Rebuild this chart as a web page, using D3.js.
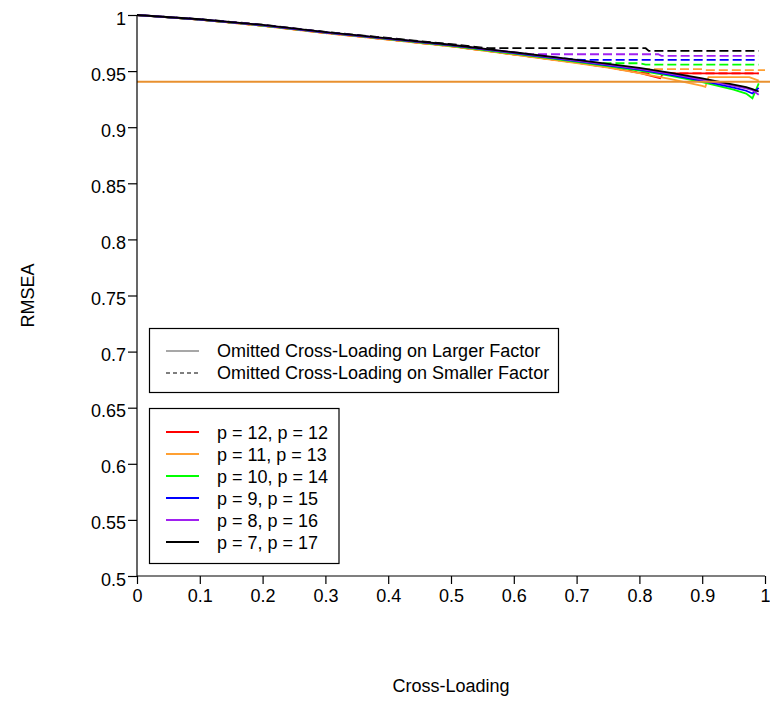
<!DOCTYPE html>
<html>
<head>
<meta charset="utf-8">
<script src="https://cdn.jsdelivr.net/npm/d3@7"></script>
<style>
  html, body { margin: 0; padding: 0; background: #fff; }
  svg { display: block; }
  text { font-family: "Liberation Sans", Arial, sans-serif; fill: #000; }
</style>
</head>
<body>
<svg id="chart" width="770" height="701"></svg>
<script>
// ---------------- data ----------------
const xTicks = [0, 0.1, 0.2, 0.3, 0.4, 0.5, 0.6, 0.7, 0.8, 0.9, 1];
const xTickLabels = ["0", "0.1", "0.2", "0.3", "0.4", "0.5", "0.6", "0.7", "0.8", "0.9", "1"];
const yTicks = [0.5, 0.55, 0.6, 0.65, 0.7, 0.75, 0.8, 0.85, 0.9, 0.95, 1];
const yTickLabels = ["0.5", "0.55", "0.6", "0.65", "0.7", "0.75", "0.8", "0.85", "0.9", "0.95", "1"];

const groupLabels = ["p = 12, p = 12", "p = 11, p = 13", "p = 10, p = 14", "p = 9, p = 15", "p = 8, p = 16", "p = 7, p = 17"];
const groupColors = ["#ff0000", "#ffa032", "#00ff00", "#0000ff", "#a020f0", "#000000"];
const styleLabels = ["Omitted Cross-Loading on Larger Factor", "Omitted Cross-Loading on Smaller Factor"];

const xSolid = [0, 0.1, 0.2, 0.3, 0.4, 0.5, 0.6, 0.7, 0.75, 0.8, 0.85, 0.9, 0.95, 0.97, 0.98, 0.99];

// solid lines (larger factor)
const redSolidX    = [0, 0.1, 0.2, 0.3, 0.4, 0.5, 0.6, 0.7, 0.75, 0.8, 0.833, 0.838, 0.99];
const redSolidY    = [1, 0.9958, 0.9905, 0.984, 0.9782, 0.9722, 0.965, 0.9575, 0.9535, 0.9485, 0.9437, 0.948, 0.948];
const orangeSolidX = [0, 0.1, 0.2, 0.3, 0.4, 0.5, 0.6, 0.7, 0.75, 0.8, 0.85, 0.9, 0.905, 0.91, 0.975, 0.99];
const orangeSolidY = [1, 0.9958, 0.9904, 0.9838, 0.978, 0.972, 0.9648, 0.9572, 0.9532, 0.9482, 0.9428, 0.9368, 0.936, 0.9446, 0.9446, 0.9415];
const greenSolidY  = [1, 0.9959, 0.9906, 0.9842, 0.9785, 0.9725, 0.9655, 0.9582, 0.9545, 0.9505, 0.9458, 0.9402, 0.9335, 0.930, 0.9258, 0.939];
const blueSolidY   = [1, 0.9960, 0.9908, 0.9844, 0.9788, 0.9729, 0.9660, 0.9588, 0.9552, 0.9513, 0.9467, 0.9413, 0.9352, 0.9325, 0.930, 0.935];
const purpleSolidY = [1, 0.9961, 0.9910, 0.9846, 0.9790, 0.9732, 0.9664, 0.9594, 0.9558, 0.952, 0.9475, 0.9425, 0.9368, 0.9345, 0.933, 0.929];
const blackSolidY  = [1, 0.9962, 0.9912, 0.9848, 0.9792, 0.9735, 0.9668, 0.9600, 0.9565, 0.9528, 0.9485, 0.9435, 0.938, 0.9358, 0.934, 0.9318];

// dashed lines (smaller factor)
const redDashX     = [0, 0.1, 0.2, 0.3, 0.4, 0.5, 0.6, 0.7, 0.75, 0.8, 0.835, 0.99];
const redDashY     = [1, 0.9958, 0.9905, 0.984, 0.9782, 0.9722, 0.965, 0.9575, 0.9535, 0.9485, 0.948, 0.948];
const orangeDashX  = [0, 0.1, 0.2, 0.3, 0.4, 0.5, 0.6, 0.7, 0.75, 0.79, 0.9, 0.905, 1.0];
const orangeDashY  = [1, 0.9958, 0.9904, 0.9838, 0.978, 0.972, 0.9648, 0.9575, 0.9545, 0.9517, 0.9517, 0.9508, 0.9508];
const greenDashX   = [0, 0.1, 0.2, 0.3, 0.4, 0.5, 0.6, 0.7, 0.74, 0.80, 0.81, 0.99];
const greenDashY   = [1, 0.9959, 0.9906, 0.9842, 0.9785, 0.9726, 0.9658, 0.959, 0.957, 0.957, 0.9558, 0.9558];
const blueDashX    = [0, 0.1, 0.2, 0.3, 0.4, 0.5, 0.6, 0.7, 0.71, 0.99];
const blueDashY    = [1, 0.996, 0.9908, 0.9844, 0.9788, 0.973, 0.9662, 0.9602, 0.960, 0.960];
const purpleDashX  = [0, 0.1, 0.2, 0.3, 0.4, 0.5, 0.6, 0.63, 0.83, 0.835, 0.99];
const purpleDashY  = [1, 0.9961, 0.991, 0.9846, 0.979, 0.9733, 0.9668, 0.965, 0.965, 0.9636, 0.9636];
const blackDashX   = [0, 0.1, 0.2, 0.3, 0.4, 0.5, 0.56, 0.81, 0.815, 0.99];
const blackDashY   = [1, 0.9963, 0.9914, 0.985, 0.9795, 0.974, 0.9704, 0.9704, 0.968, 0.968];

// horizontal orange reference line
const refLineX = [0, 1.01];
const refLineY = [0.9405, 0.9405];

// ---------------- drawing ----------------
const svg = d3.select("#chart");
const FONT = 18;

const x = d3.scaleLinear().domain([0, 1]).range([137, 765]);
const y = d3.scaleLinear().domain([0.5, 1]).range([576, 15]);

const line = d3.line().x(d => x(d[0])).y(d => y(d[1]));
const zip = (xs, ys) => xs.map((v, i) => [v, ys[i]]);

const solidSeries = [
  { c: 0, pts: zip(redSolidX, redSolidY) },
  { c: 1, pts: zip(orangeSolidX, orangeSolidY) },
  { c: 2, pts: zip(xSolid, greenSolidY) },
  { c: 3, pts: zip(xSolid, blueSolidY) },
  { c: 4, pts: zip(xSolid, purpleSolidY) },
  { c: 5, pts: zip(xSolid, blackSolidY) }
];
const dashSeries = [
  { c: 0, pts: zip(redDashX, redDashY) },
  { c: 1, pts: zip(orangeDashX, orangeDashY) },
  { c: 2, pts: zip(greenDashX, greenDashY) },
  { c: 3, pts: zip(blueDashX, blueDashY) },
  { c: 4, pts: zip(purpleDashX, purpleDashY) },
  { c: 5, pts: zip(blackDashX, blackDashY) }
];

const plot = svg.append("g");
plot.selectAll("path.dash").data(dashSeries).join("path")
  .attr("class", "dash")
  .attr("d", d => line(d.pts))
  .attr("fill", "none")
  .attr("stroke", d => groupColors[d.c])
  .attr("stroke-width", 1.8)
  .attr("stroke-dasharray", "9,4");
plot.selectAll("path.solid").data(solidSeries).join("path")
  .attr("class", "solid")
  .attr("d", d => line(d.pts))
  .attr("fill", "none")
  .attr("stroke", d => groupColors[d.c])
  .attr("stroke-width", 1.8);
plot.append("path")
  .attr("d", line(zip(refLineX, refLineY)))
  .attr("fill", "none")
  .attr("stroke", "#e8902f")
  .attr("stroke-width", 1.8);

// axes
const xAxis = d3.axisBottom(x).tickValues(xTicks).tickSize(8).tickPadding(5)
  .tickFormat((d, i) => xTickLabels[i]);
const yAxis = d3.axisLeft(y).tickValues(yTicks).tickSize(9).tickPadding(2)
  .tickFormat((d, i) => yTickLabels[i]);

const gx = svg.append("g").attr("transform", `translate(0,${y(0.5)})`).call(xAxis);
const gy = svg.append("g").attr("transform", `translate(${x(0)},0)`).call(yAxis);
[gx, gy].forEach(g => {
  g.select(".domain").attr("stroke", "#000").attr("stroke-width", 1.2)
    .attr("d", g === gx ? `M${x(0)},0H${x(1)}` : `M0,${y(0.5)}V${y(1)}`);
  g.selectAll(".tick line").attr("stroke", "#000").attr("stroke-width", 1.2);
  g.selectAll(".tick text").attr("font-size", FONT).attr("fill", "#000")
    .attr("font-family", "Liberation Sans, Arial, sans-serif");
});
gy.selectAll(".tick text").attr("dy", "0.5em");

// axis titles
svg.append("text")
  .attr("x", x(0.5)).attr("y", 692)
  .attr("text-anchor", "middle").attr("font-size", FONT)
  .text("Cross-Loading");
svg.append("text")
  .attr("transform", `translate(34,${y(0.75)}) rotate(-90)`)
  .attr("text-anchor", "middle").attr("font-size", FONT)
  .text("RMSEA");

// legend 1 : line styles
const lg1 = svg.append("g");
const lg1Rows = [351, 373];
const lg1Texts = lg1.selectAll("text").data(styleLabels).join("text")
  .attr("x", 217).attr("y", (d, i) => lg1Rows[i] + 6)
  .attr("font-size", FONT).text(d => d);
let maxW1 = 0;
lg1Texts.each(function () { maxW1 = Math.max(maxW1, this.getComputedTextLength()); });
lg1.insert("rect", "text")
  .attr("x", 149.5).attr("y", 328.5).attr("width", Math.round(217 + maxW1 + 9 - 149.5)).attr("height", 64)
  .attr("fill", "#fff").attr("stroke", "#000").attr("stroke-width", 1.2);
lg1.selectAll("line").data(styleLabels).join("line")
  .attr("x1", 166).attr("x2", 199)
  .attr("y1", (d, i) => lg1Rows[i]).attr("y2", (d, i) => lg1Rows[i])
  .attr("stroke", (d, i) => i === 0 ? "#8a8a8a" : "#555")
  .attr("stroke-width", 1.5)
  .attr("stroke-dasharray", (d, i) => i === 0 ? null : "4,3");

// legend 2 : groups
const lg2 = svg.append("g");
const lg2Rows = [432, 454, 476, 498, 520, 542];
lg2.append("rect")
  .attr("x", 149.5).attr("y", 408.5).attr("width", 189.5).attr("height", 155)
  .attr("fill", "#fff").attr("stroke", "#000").attr("stroke-width", 1.2);
lg2.selectAll("line").data(groupLabels).join("line")
  .attr("x1", 166).attr("x2", 199)
  .attr("y1", (d, i) => lg2Rows[i]).attr("y2", (d, i) => lg2Rows[i])
  .attr("stroke", (d, i) => groupColors[i]).attr("stroke-width", 2);
lg2.selectAll("text").data(groupLabels).join("text")
  .attr("x", 217).attr("y", (d, i) => lg2Rows[i] + 6.5)
  .attr("font-size", FONT).text(d => d);
</script>
</body>
</html>
